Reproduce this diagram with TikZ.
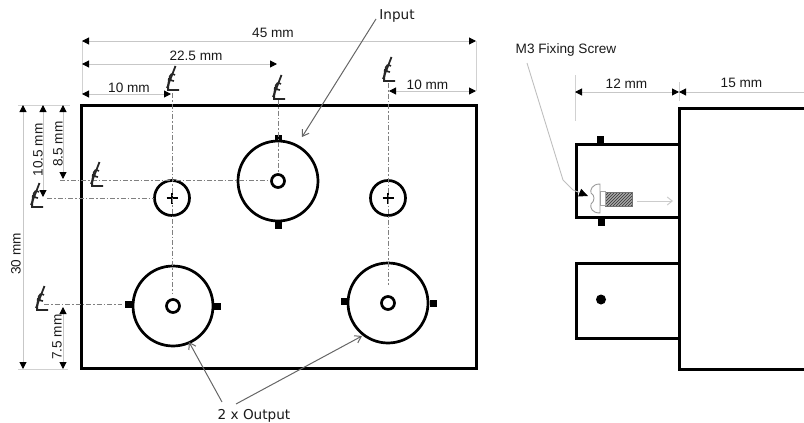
\documentclass[tikz,border=0pt]{standalone}
\usepackage{fontspec}
\setmainfont{Liberation Sans}
\newfontfamily\calloutfont{DejaVu Sans}
\usetikzlibrary{arrows.meta,patterns}
\tikzstyle{outline} = [rectangle, draw=black, line width=3pt, inner sep=0pt]
\tikzstyle{hole} = [circle, draw=black, line width=2.7pt, inner sep=0pt]
\tikzstyle{tab} = [rectangle, fill=black, minimum width=7pt, minimum height=7pt, inner sep=0pt]
\tikzstyle{dimtext} = [inner sep=0pt, font=\fontsize{13.6}{15}\selectfont, text=black!90]
\tikzstyle{callout} = [inner sep=0pt, font=\calloutfont\fontsize{13.6}{15}\selectfont, text=black!90]
\tikzstyle{dimline} = [draw=black!22, line width=1pt, {Triangle[black,length=7pt,width=7pt]}-{Triangle[black,length=7pt,width=7pt]}]
\tikzstyle{extline} = [draw=black!18, line width=1pt]
\tikzstyle{centreline} = [draw=black!50, line width=1pt, dash pattern=on 5pt off 2pt on 1.5pt off 2pt]
\tikzstyle{leader} = [draw=black!60, line width=1pt, -{Straight Barb[length=6pt,width=8pt]}]
\tikzset{clmark/.pic={
  \draw[line width=1.8pt, black!85] (3.5,-12) -- (-5,10);
  \draw[line width=1.6pt, black!85] (3,-3) .. controls (-3,-7) and (-5,3) .. (2,3);
  \draw[line width=1.8pt, black!85] (-3,0) -- (-4,12) -- (7,12);
}}

\begin{document}
\begin{tikzpicture}[x=1pt,y=-1pt]
\useasboundingbox (0,0) rectangle (804,423);

% front view
\node (plate) [outline, minimum width=395pt, minimum height=263pt] at (278.5,236.5) {};
\node (smallL) [hole, minimum size=35pt] at (172,198) {};
\node (smallR) [hole, minimum size=35pt] at (388,198) {};
\node (input) [hole, minimum size=80pt] at (278,181) {};
\node (outL) [hole, minimum size=80pt] at (173,306) {};
\node (outR) [hole, minimum size=80pt] at (388,303) {};
\node (inputpin) [hole, minimum size=13pt] at (278,181) {};
\node (outLpin) [hole, minimum size=13pt] at (173,306) {};
\node (outRpin) [hole, minimum size=13pt] at (388,303) {};
\node (inputT) [tab] at (278,138) {};
\node (inputB) [tab] at (278,225) {};
\node (outLa) [tab] at (128,304) {};
\node (outLb) [tab] at (217,306.5) {};
\node (outRa) [tab] at (344,301.5) {};
\node (outRb) [tab] at (433.5,303) {};
\draw[line width=2.6pt] (166.5,198) -- (177.5,198) (172,192.5) -- (172,203.5);
\draw[line width=2.6pt] (382.5,198) -- (393.5,198) (388,192.5) -- (388,203.5);

% centre lines
\coordinate (c1t) at (172,93);
\coordinate (c1b) at (172,293);
\coordinate (c2t) at (278,100);
\coordinate (c2b) at (278,172);
\coordinate (c3t) at (388,83);
\coordinate (c3b) at (388,285);
\coordinate (h1a) at (60,180);
\coordinate (h1b) at (270,180);
\coordinate (h2a) at (47,198);
\coordinate (h2b) at (154,198);
\coordinate (h3a) at (44,304);
\coordinate (h3b) at (122,304);
\draw[centreline] (c1t) -- (c1b);
\draw[centreline] (c2t) -- (c2b);
\draw[centreline] (c3t) -- (c3b);
\draw[centreline] (h1a) -- (h1b);
\draw[centreline] (h2a) -- (h2b);
\draw[centreline] (h3a) -- (h3b);
\pic at (172,78) {clmark};
\pic at (278,87) {clmark};
\pic at (388,69) {clmark};
\pic at (96,174) {clmark};
\pic at (36,195) {clmark};
\pic at (41,298) {clmark};

% top dimensions
\coordinate (xa1) at (82,41);
\coordinate (xb1) at (476,41);
\coordinate (xa2) at (82,64);
\coordinate (xb2) at (277,64);
\coordinate (xa3) at (82,94);
\coordinate (xb3) at (171,94);
\coordinate (xa4) at (389,91);
\coordinate (xb4) at (476,91);
\draw[extline] (xa1) -- (xa3);
\draw[extline] (xb1) -- (xb4);
\draw[dimline] (xa1) -- (xb1);
\draw[dimline] (xa2) -- (xb2);
\draw[dimline] (xa3) -- (xb3);
\draw[dimline] (xa4) -- (xb4);
\node (dim45) [dimtext] at (273,33) {45 mm};
\node (dim22) [dimtext] at (196,56) {22.5 mm};
\node (dim10a) [dimtext] at (129,88) {10 mm};
\node (dim10b) [dimtext] at (427.5,85) {10 mm};

% left dimensions
\coordinate (ya1) at (23,105);
\coordinate (yb1) at (23,369);
\coordinate (ya2) at (43,105);
\coordinate (yb2) at (43,197);
\coordinate (ya3) at (63,105);
\coordinate (yb3) at (63,179);
\coordinate (ya4) at (63,307);
\coordinate (yb4) at (63,369);
\coordinate (e1a) at (18,105);
\coordinate (e1b) at (70,105);
\coordinate (e2a) at (18,369);
\coordinate (e2b) at (68,369);
\draw[extline] (e1a) -- (e1b);
\draw[extline] (e2a) -- (e2b);
\draw[dimline] (ya1) -- (yb1);
\draw[dimline] (ya2) -- (yb2);
\draw[dimline] (ya3) -- (yb3);
\draw[dimline] (ya4) -- (yb4);
\node (dim30) [dimtext, rotate=90] at (16,254) {30 mm};
\node (dim105) [dimtext, rotate=90] at (38,150) {10.5 mm};
\node (dim85) [dimtext, rotate=90] at (58,144) {8.5 mm};
\node (dim75) [dimtext, rotate=90] at (57,337) {7.5 mm};

% callouts
\node (inputlbl) [callout] at (397,16) {Input};
\node (outputlbl) [callout] at (254,416) {2 x Output};
\coordinate (inputfrom) at (376,19);
\coordinate (inputto) at (302,137);
\coordinate (out1from) at (222,402);
\coordinate (out1to) at (189,342);
\coordinate (out2from) at (236,404);
\coordinate (out2to) at (362,336);
\draw[leader] (inputfrom) -- (inputto);
\draw[leader] (out1from) -- (out1to);
\draw[leader] (out2from) -- (out2to);

% side view
\coordinate (bodyTR) at (804,108);
\coordinate (bodyTL) at (679,108);
\coordinate (bodyBL) at (679,369.5);
\coordinate (bodyBR) at (804,369.5);
\draw[line width=3pt, line join=miter] (bodyTR) -- (bodyTL) -- (bodyBL) -- (bodyBR);
\node (upper) [outline, minimum width=103pt, minimum height=73pt] at (627.5,180.5) {};
\node (lower) [outline, minimum width=103pt, minimum height=75pt] at (627.5,300.5) {};
\node (upperT) [tab] at (600,139) {};
\node (upperB) [tab] at (601,222) {};
\node (dot) [circle, fill=black, minimum size=10pt, inner sep=0pt] at (601,299.5) {};

% screw
\node (shank) [rectangle, draw=black!55, preaction={fill=black!35}, pattern=north east lines, pattern color=black!80, minimum width=27pt, minimum height=14pt, inner sep=0pt] at (619,199) {};
\node (neck) [rectangle, draw=black!35, line width=0.8pt, minimum width=5pt, minimum height=14pt, inner sep=0pt] at (603,198) {};
\draw[black!40, line width=0.9pt] (600,184) .. controls (592,184) and (590,190) .. (591,193) .. controls (595,195) and (595,201) .. (591,204) .. controls (590,208) and (592,213) .. (600,213) -- cycle;
\coordinate (travelfrom) at (637,201);
\coordinate (travelto) at (673,201);
\draw[draw=black!20, line width=1pt, -{Straight Barb[length=5pt,width=8pt]}] (travelfrom) -- (travelto);

% side dimensions
\coordinate (za) at (575,92);
\coordinate (zb) at (679,92);
\coordinate (zc) at (804,92);
\coordinate (ze1) at (575,75);
\coordinate (ze2) at (575,121);
\coordinate (ze3) at (679,82);
\coordinate (ze4) at (679,101);
\draw[extline] (ze1) -- (ze2);
\draw[extline] (ze3) -- (ze4);
\draw[dimline] (za) -- (zb);
\draw[draw=black!22, line width=1pt, {Triangle[black,length=7pt,width=7pt]}-] (zb) -- (zc);
\node (dim12) [dimtext] at (626.5,84) {12 mm};
\node (dim15) [dimtext] at (741.5,83) {15 mm};
\node (screwlbl) [dimtext] at (566,50) {M3 Fixing Screw};
\coordinate (sc1) at (527,63);
\coordinate (sc2) at (563,180);
\coordinate (sc3) at (573,190);
\coordinate (sc4) at (588,196);
\draw[draw=black!25, line width=0.9pt, -{Triangle[black,length=9pt,width=8pt]}] (sc1) -- (sc2) -- (sc3) -- (sc4);
\end{tikzpicture}
\end{document}
